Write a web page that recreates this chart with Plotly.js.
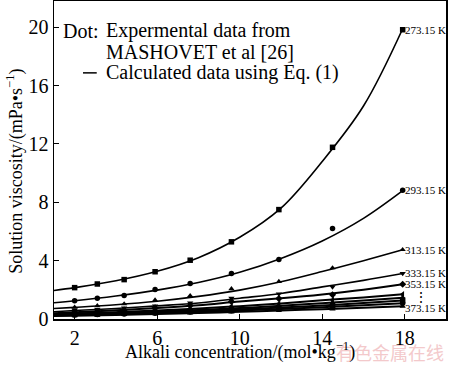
<!DOCTYPE html>
<html><head><meta charset="utf-8">
<script src="https://cdn.plot.ly/plotly-3.0.1.min.js"></script>
<style>html,body{margin:0;padding:0;background:#fff}#c{width:450px;height:368px}</style>
</head><body><div id="c"></div>
<script>
// Temperatures (K) of the curves
const temps = ["273.15 K","293.15 K","313.15 K","333.15 K","353.15 K","358.15 K","363.15 K","366.15 K","369.15 K","373.15 K"];
const showLabel = [true,true,true,true,true,false,false,false,false,true];
const symbols = ["square","circle","triangle-up","triangle-down","diamond","triangle-left","triangle-right","square","circle","triangle-up"];

// Experimental points (dots)
const expX = [2, 3.1, 4.4, 5.9, 7.6, 9.6, 11.9, 14.5, 17.9];
const exp273 = [2.15, 2.4, 2.7, 3.24, 4.03, 5.29, 7.5, 11.77, 19.83];
const exp293 = [1.25, 1.43, 1.61, 2.02, 2.43, 3.12, 4.08, 6.2, 8.82];
const exp313 = [0.8, 0.9, 1.03, 1.3, 1.6, 2.07, 2.57, 3.5, 4.75];
const exp333 = [0.6, 0.66, 0.76, 0.9, 1.1, 1.43, 1.72, 2.2, 3.12];
const exp353 = [0.46, 0.52, 0.62, 0.76, 0.92, 1.2, 1.4, 1.66, 2.38];
const exp358 = [0.38, 0.43, 0.5, 0.6, 0.72, 0.88, 1.05, 1.3, 1.7];
const exp363 = [0.34, 0.38, 0.44, 0.52, 0.62, 0.75, 0.9, 1.1, 1.45];
const exp366 = [0.3, 0.34, 0.39, 0.46, 0.55, 0.66, 0.78, 0.95, 1.27];
const exp369 = [0.27, 0.3, 0.34, 0.4, 0.48, 0.57, 0.68, 0.82, 1.08];
const exp373 = [0.23, 0.26, 0.3, 0.35, 0.41, 0.48, 0.57, 0.68, 0.87];

// Calculated curves (Eq. 1)
const calcX = [1, 2, 4, 6, 8, 10, 12, 14, 16, 17.9];
const calc273 = [1.95, 2.15, 2.62, 3.27, 4.2, 5.6, 7.6, 10.8, 14.6, 19.9];
const calc293 = [1.11, 1.25, 1.58, 1.98, 2.5, 3.2, 4.15, 5.35, 6.9, 8.8];
const calc313 = [0.72, 0.8, 0.98, 1.22, 1.55, 1.98, 2.55, 3.25, 4.0, 4.75];
const calc333 = [0.5, 0.58, 0.72, 0.9, 1.1, 1.42, 1.75, 2.2, 2.65, 3.12];
const calc353 = [0.4, 0.46, 0.6, 0.76, 0.95, 1.2, 1.42, 1.68, 2.0, 2.38];
const calc358 = [0.33, 0.38, 0.47, 0.58, 0.72, 0.88, 1.07, 1.28, 1.48, 1.7];
const calc363 = [0.29, 0.34, 0.42, 0.51, 0.62, 0.75, 0.91, 1.08, 1.26, 1.45];
const calc366 = [0.26, 0.3, 0.37, 0.45, 0.55, 0.66, 0.79, 0.93, 1.1, 1.27];
const calc369 = [0.24, 0.27, 0.33, 0.4, 0.48, 0.58, 0.69, 0.81, 0.94, 1.08];
const calc373 = [0.2, 0.23, 0.28, 0.34, 0.41, 0.49, 0.58, 0.67, 0.77, 0.87];

const expAll = [exp273,exp293,exp313,exp333,exp353,exp358,exp363,exp366,exp369,exp373];
const calcAll = [calc273,calc293,calc313,calc333,calc353,calc358,calc363,calc366,calc369,calc373];

const xTicks = [2, 6, 10, 14, 18];
const yTicks = [0, 4, 8, 12, 16, 20];

const FONT = "Liberation Serif, Times New Roman, serif";
const traces = [];
calcAll.forEach((c, i) => {
  traces.push({x: calcX, y: c, type: "scatter", mode: "lines", name: temps[i],
    line: {color: "#000", width: i >= 4 ? 2 : 1.6, shape: "spline", smoothing: 1}, showlegend: false, hoverinfo: "skip"});
});
expAll.forEach((e, i) => {
  traces.push({x: expX, y: e, type: "scatter", mode: "markers", name: temps[i] + " exp",
    marker: {color: "#000", size: 5.5, symbol: symbols[i]}, showlegend: false});
});

const LEG = 20;
const annotations = [];
expAll.forEach((e, i) => {
  if (!showLabel[i]) return;
  annotations.push({x: expX[expX.length-1], y: e[e.length-1], xref: "x", yref: "y",
    text: temps[i], showarrow: false, xanchor: "left", yanchor: "middle", xshift: 0,
    yshift: i === 9 ? -2 : 0,
    font: {family: FONT, size: 11, color: "#000"}});
});
annotations.push({x: expX[expX.length-1], y: 1.5, xref: "x", yref: "y", text: "⋮",
  showarrow: false, xanchor: "left", xshift: 9, font: {family: FONT, size: 14, color: "#000"}});
annotations.push({x: 0.018, y: 0.906, xref: "paper", yref: "paper", text: "Dot:", showarrow: false,
  xanchor: "left", yanchor: "middle", font: {family: FONT, size: LEG, color: "#000"}});
annotations.push({x: 0.128, y: 0.906, xref: "paper", yref: "paper", text: "Expermental data from", showarrow: false,
  xanchor: "left", yanchor: "middle", font: {family: FONT, size: LEG, color: "#000"}});
annotations.push({x: 0.128, y: 0.84, xref: "paper", yref: "paper", text: "MASHOVET et al [26]", showarrow: false,
  xanchor: "left", yanchor: "middle", font: {family: FONT, size: LEG, color: "#000"}});
annotations.push({x: 0.128, y: 0.774, xref: "paper", yref: "paper", text: "Calculated data using Eq. (1)", showarrow: false,
  xanchor: "left", yanchor: "middle", font: {family: FONT, size: LEG, color: "#000"}});
annotations.push({x: -0.098, y: 0.465, xref: "paper", yref: "paper", text: "Solution viscosity/(mPa•s<sup>−1</sup>)",
  showarrow: false, textangle: -90, xanchor: "center", yanchor: "middle", font: {family: FONT, size: 18, color: "#000"}});
// watermark first, then x-axis title on top of it
annotations.push({x: 1.0, y: -0.104, xref: "paper", yref: "paper", text: "有色金属在线", showarrow: false,
  xanchor: "right", yanchor: "middle", font: {family: "Noto Sans CJK SC", size: 18, color: "#f3c9cb"}});
annotations.push({x: 0.474, y: -0.1, xref: "paper", yref: "paper", text: "Alkali concentration/(mol•kg<sup>−1</sup>)", showarrow: false,
  xanchor: "center", yanchor: "middle", font: {family: FONT, size: 18, color: "#000"}});

const layout = {
  width: 450, height: 368,
  margin: {l: 54, r: 4, t: 1, b: 49},
  paper_bgcolor: "#fff", plot_bgcolor: "#fff",
  font: {family: FONT, color: "#000"},
  showlegend: false,
  xaxis: {range: [1, 20], tickvals: xTicks, ticktext: xTicks.map(String), ticks: "inside", ticklen: 5,
    tickcolor: "#000", showline: true, linecolor: "#000", linewidth: 1.5, mirror: true, showgrid: false, zeroline: false,
    tickfont: {family: FONT, size: 20}},
  yaxis: {range: [0, 21.8], tickvals: yTicks, ticktext: yTicks.map(String), ticks: "inside", ticklen: 5,
    tickcolor: "#000", showline: true, linecolor: "#000", linewidth: 1.5, mirror: true, showgrid: false, zeroline: false,
    tickfont: {family: FONT, size: 20}},
  shapes: [{type: "line", xref: "paper", yref: "paper", x0: 0.074, x1: 0.109, y0: 0.774, y1: 0.774, line: {color: "#000", width: 1.5}}],
  annotations: annotations
};
Plotly.newPlot("c", traces, layout, {staticPlot: true, displayModeBar: false});
</script></body></html>
